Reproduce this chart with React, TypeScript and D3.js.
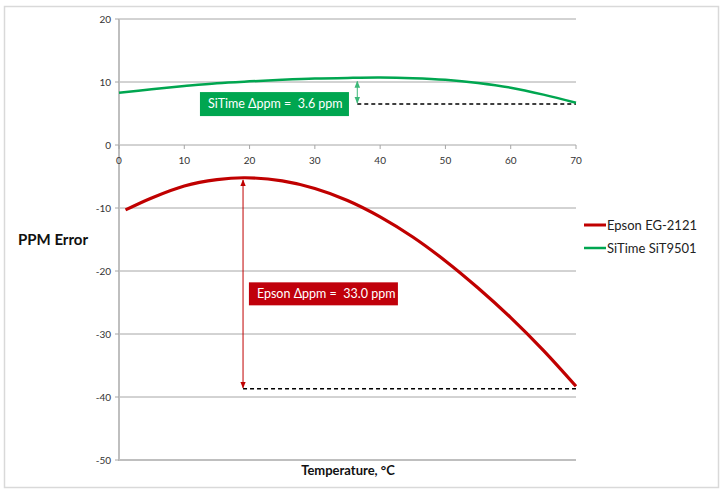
import React from "react"
import * as d3 from "d3"

// temperature (°C) and ppm error
const epsonTemps = [1, 5, 10, 15, 19.3, 25, 30, 35, 40, 45, 50, 55, 60, 65, 70]
const epsonPpm = [-10.3, -8.4, -6.5, -5.5, -5.2, -5.7, -6.9, -8.8, -11.4, -14.6, -18.4, -22.7, -27.4, -32.6, -38.3]

const sitimeTemps = [0, 5, 10, 15, 20, 25, 30, 35, 40, 45, 50, 55, 60, 65, 70]
const sitimePpm = [8.3, 8.85, 9.35, 9.8, 10.1, 10.35, 10.55, 10.65, 10.7, 10.6, 10.35, 9.85, 9.1, 8.0, 6.7]

const xTicks = [0, 10, 20, 30, 40, 50, 60, 70]
const yTicks = [20, 10, 0, -10, -20, -30, -40, -50]

const seriesNames = ["Epson EG-2121", "SiTime SiT9501"]
const seriesColors = ["#C00000", "#00A650"]

// delta annotations: temperature of arrow, top value, bottom (dashed) value
const epsonDelta = { t: 19, top: -5.4, bottom: -38.7, label: "Epson Δppm =  33.0 ppm" }
const sitimeDelta = { t: 36.5, top: 10.1, bottom: 6.5, label: "SiTime Δppm =  3.6 ppm" }

const font = "Lato, 'Open Sans', sans-serif"

export default function App() {
  const width = 728
  const height = 493

  const x = d3.scaleLinear().domain([0, 70]).range([119, 576])
  const y = d3.scaleLinear().domain([-50, 20]).range([460, 19])

  const line = d3
    .line<[number, number]>()
    .x(d => x(d[0]))
    .y(d => y(d[1]))
    .curve(d3.curveCatmullRom)

  const epsonPath = line(epsonTemps.map((t, i) => [t, epsonPpm[i]]) as [number, number][])
  const sitimePath = line(sitimeTemps.map((t, i) => [t, sitimePpm[i]]) as [number, number][])

  const grid = "#a6a6a6"
  const axis = "#bfbfbf"

  return (
    <svg
      width={width}
      height={height}
      viewBox={`0 0 ${width} ${height}`}
      style={{ position: "absolute", left: 0, top: 0, background: "#fff" }}
      xmlns="http://www.w3.org/2000/svg"
    >
      <defs>
        <marker id="arrRed" viewBox="0 0 10 10" refX="9" refY="5" markerWidth="7" markerHeight="7" orient="auto-start-reverse">
          <path d="M0,1 L10,5 L0,9 z" fill="#C00000" />
        </marker>
        <marker id="arrGreen" viewBox="0 0 10 10" refX="9" refY="5" markerWidth="7" markerHeight="7" orient="auto-start-reverse">
          <path d="M0,1 L10,5 L0,9 z" fill="#3cb878" />
        </marker>
      </defs>

      {/* outer frame */}
      <rect x={4.5} y={6.5} width={714} height={481} fill="none" stroke="#d9d9d9" strokeWidth={1.5} />

      {/* gridlines */}
      {yTicks.map(v => (
        <line
          key={v}
          x1={x(0)}
          x2={x(70)}
          y1={y(v)}
          y2={y(v)}
          stroke={v === -50 ? axis : grid}
          strokeWidth={v === -50 ? 2 : 1}
        />
      ))}

      {/* y axis */}
      <line x1={x(0)} x2={x(0)} y1={y(20)} y2={y(-50) + 1} stroke={axis} strokeWidth={2} />
      {yTicks.map(v => (
        <g key={v}>
          <line x1={x(0) - 4} x2={x(0)} y1={y(v)} y2={y(v)} stroke={grid} />
          <text x={x(0) - 8} y={y(v)} dy="0.35em" textAnchor="end" fontSize={10} fontFamily={font} fill="#333">
            {v}
          </text>
        </g>
      ))}

      {/* x axis at 0 */}
      {xTicks.map(v => (
        <g key={v}>
          <line x1={x(v)} x2={x(v)} y1={y(0)} y2={y(0) + 4} stroke={grid} />
          <text x={x(v)} y={y(0) + 15} dy="0.35em" textAnchor="middle" fontSize={10} fontFamily={font} fill="#333">
            {v}
          </text>
        </g>
      ))}

      {/* dashed reference lines */}
      <line x1={x(epsonDelta.t)} x2={x(70)} y1={y(epsonDelta.bottom)} y2={y(epsonDelta.bottom)} stroke="#000" strokeWidth={1.5} strokeDasharray="4,3" />
      <line x1={x(sitimeDelta.t)} x2={x(70)} y1={y(sitimeDelta.bottom)} y2={y(sitimeDelta.bottom)} stroke="#000" strokeWidth={1.5} strokeDasharray="4,3" />

      {/* series */}
      <path d={sitimePath ?? ""} fill="none" stroke={seriesColors[1]} strokeWidth={2.5} />
      <path d={epsonPath ?? ""} fill="none" stroke={seriesColors[0]} strokeWidth={3.2} />

      {/* delta arrows */}
      <line
        x1={x(epsonDelta.t)}
        x2={x(epsonDelta.t)}
        y1={y(epsonDelta.top) + 1}
        y2={y(epsonDelta.bottom) - 1}
        stroke="#C00000"
        strokeWidth={1}
        markerStart="url(#arrRed)"
        markerEnd="url(#arrRed)"
      />
      <line
        x1={x(sitimeDelta.t)}
        x2={x(sitimeDelta.t)}
        y1={y(sitimeDelta.top)}
        y2={y(sitimeDelta.bottom) - 1}
        stroke="#3cb878"
        strokeWidth={1}
        markerStart="url(#arrGreen)"
        markerEnd="url(#arrGreen)"
      />

      {/* annotation boxes */}
      <rect x={x(12.4)} y={y(8.4)} width={149} height={24} fill="#00A650" />
      <text x={x(12.4) + 8} y={y(8.4) + 12} dy="0.35em" fontSize={12.5} fontFamily={font} fill="#fff" style={{ whiteSpace: "pre" }}>
        {sitimeDelta.label}
      </text>
      <rect x={x(19.9)} y={y(-21.8)} width={149} height={23} fill="#C0000B" />
      <text x={x(19.9) + 8} y={y(-21.8) + 11.5} dy="0.35em" fontSize={12.5} fontFamily={font} fill="#fff" style={{ whiteSpace: "pre" }}>
        {epsonDelta.label}
      </text>

      {/* legend */}
      {seriesNames.map((name, i) => (
        <g key={name} transform={`translate(584, ${225 + i * 23})`}>
          <line x1={0} x2={22} y1={0} y2={0} stroke={seriesColors[i]} strokeWidth={i === 0 ? 3 : 2.5} />
          <text x={23} y={0} dy="0.35em" fontSize={13} fontFamily={font} fill="#222">
            {name}
          </text>
        </g>
      ))}

      {/* axis titles */}
      <text x={18} y={240} dy="0.35em" fontSize={15} fontWeight="bold" fontFamily={font} fill="#111">
        PPM Error
      </text>
      <text x={348} y={470} dy="0.35em" textAnchor="middle" fontSize={13} fontWeight="bold" fontFamily={font} fill="#111">
        Temperature, °C
      </text>
    </svg>
  )
}
